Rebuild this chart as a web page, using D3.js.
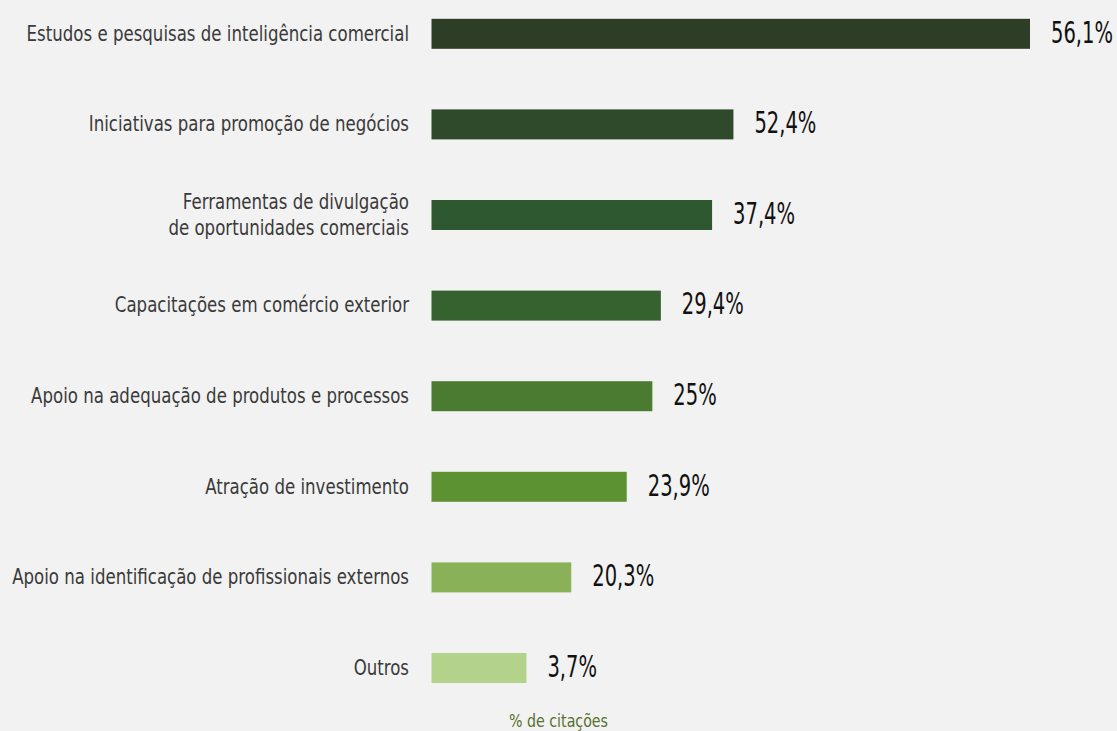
<!DOCTYPE html>
<html>
<head>
<meta charset="utf-8">
<script src="https://cdn.jsdelivr.net/npm/d3@7"></script>
<style>
  html, body { margin: 0; padding: 0; background: #f2f2f2; }
  svg { display: block; }
</style>
</head>
<body>
<svg id="chart" width="1117" height="731"></svg>
<script>
// Categories (top to bottom); "\n" marks a line break in the label
const categories = [
  "Estudos e pesquisas de inteligência comercial",
  "Iniciativas para promoção de negócios",
  "Ferramentas de divulgação\nde oportunidades comerciais",
  "Capacitações em comércio exterior",
  "Apoio na adequação de produtos e processos",
  "Atração de investimento",
  "Apoio na identificação de profissionais externos",
  "Outros"
];
// Printed values (% de citações)
const values = [56.1, 52.4, 37.4, 29.4, 25, 23.9, 20.3, 3.7];
// Bar lengths as drawn in the reference in % units
// (the reference's bars are not proportional to the printed values)
const drawnLengths = [56.1, 28.3, 26.3, 21.5, 20.7, 18.3, 13.1, 8.9];
const barColors = ["#2e3d26", "#2f4a2a", "#2e5930", "#36622f", "#4a7b31", "#5d9232", "#89b157", "#b3d38b"];
const axisTitle = "% de citações";

const svg = d3.select("#chart");
const W = 1117, H = 731;
svg.append("rect").attr("width", W).attr("height", H).attr("fill", "#f2f2f2");

const font = "'DejaVu Sans Condensed', 'DejaVu Sans', sans-serif";

const x = d3.scaleLinear().domain([0, d3.max(drawnLengths)]).range([431.5, 1030]);
const y = d3.scalePoint().domain(categories).range([33.8, 668]);
const barH = 30;

const fmt = v => String(v).replace(".", ",") + "%";

// measure helper to compute horizontal condensing factor
function measure(str, size) {
  const t = svg.append("text").attr("font-family", font).attr("font-size", size).text(str);
  const w = t.node().getComputedTextLength();
  t.remove();
  return w;
}
const catSize = 20.5, valSize = 30, titleSize = 18.5;
const kCat = 397 / measure("Apoio na identificação de profissionais externos", catSize);
const kVal = 62 / measure("56,1%", valSize);
const kTitle = 99 / measure(axisTitle, titleSize);

const rows = categories.map((c, i) => ({ c, v: values[i], len: drawnLengths[i], col: barColors[i] }));

svg.selectAll("rect.bar").data(rows).join("rect")
  .attr("class", "bar")
  .attr("x", x(0))
  .attr("y", d => y(d.c) - barH / 2)
  .attr("width", d => x(d.len) - x(0))
  .attr("height", barH)
  .attr("fill", d => d.col);

// Category labels
const lab = svg.selectAll("text.cat").data(rows).join("text")
  .attr("class", "cat")
  .attr("transform", d => `translate(409,${y(d.c)}) scale(${kCat},1)`)
  .attr("text-anchor", "end")
  .attr("font-family", font)
  .attr("font-size", catSize)
  .attr("fill", "#3a3a3a");
lab.each(function(d) {
  const lines = d.c.split("\n");
  const t = d3.select(this);
  const lh = 26;
  lines.forEach((ln, k) => {
    t.append("tspan")
      .attr("x", 0)
      .attr("y", (k - (lines.length - 1) / 2) * lh)
      .attr("dy", "0.33em")
      .text(ln);
  });
});

// Value labels
svg.selectAll("text.val").data(rows).join("text")
  .attr("class", "val")
  .attr("transform", d => `translate(${x(d.len) + 21},${y(d.c)}) scale(${kVal},1)`)
  .attr("dy", "0.29em")
  .attr("font-family", font)
  .attr("font-size", valSize)
  .attr("fill", "#111111")
  .text(d => fmt(d.v));

// Axis title
svg.append("text")
  .attr("transform", `translate(558.5,727) scale(${kTitle},1)`)
  .attr("text-anchor", "middle")
  .attr("font-family", font)
  .attr("font-size", titleSize)
  .attr("fill", "#56702f")
  .text(axisTitle);
</script>
</body>
</html>
